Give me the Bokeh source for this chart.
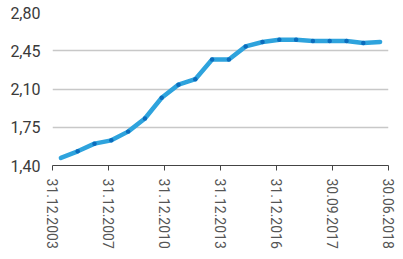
from bokeh.plotting import figure
from bokeh.models import Range1d, FixedTicker, CustomJSTickFormatter
from bokeh.embed import file_html
from bokeh.resources import INLINE

# data (20 periods)
values = [1.47, 1.53, 1.60, 1.63, 1.71, 1.83, 2.02, 2.14, 2.19, 2.37,
          2.37, 2.49, 2.53, 2.55, 2.55, 2.54, 2.54, 2.54, 2.52, 2.53]
tick_labels = ["31.12.2003", "31.12.2007", "31.12.2010", "31.12.2013",
               "31.12.2016", "30.09.2017", "30.06.2018"]
y_ticks = [1.40, 1.75, 2.10, 2.45, 2.80]

n = len(values)
xs = [3 * i + 1.5 for i in range(n)]
x_max = 3 * n
x_ticks = [round(i * x_max / (len(tick_labels) - 1)) for i in range(len(tick_labels))]

p = figure(width=395, height=265, output_backend="svg", toolbar_location=None,
           x_range=Range1d(0, x_max), y_range=Range1d(y_ticks[0], y_ticks[-1]),
           min_border_left=52, min_border_right=7, min_border_top=12,
           min_border_bottom=100)
p.outline_line_color = None
p.background_fill_color = "white"
p.border_fill_color = "white"

FONT = "Roboto"

p.xgrid.grid_line_color = None
p.ygrid.grid_line_color = "#c8c8c8"
p.ygrid.grid_line_width = 1.3

p.yaxis.ticker = FixedTicker(ticks=y_ticks)
p.yaxis.formatter = CustomJSTickFormatter(code="return tick.toFixed(2).replace('.', ',');")
p.yaxis.axis_line_color = None
p.yaxis.major_tick_line_color = None
p.yaxis.minor_tick_line_color = None
p.yaxis.major_label_standoff = 6
p.yaxis.major_label_text_font = FONT
p.yaxis.major_label_text_font_size = "16px"
p.yaxis.major_label_text_color = "#3a3a3a"

p.xaxis.ticker = FixedTicker(ticks=x_ticks)
p.xaxis.major_label_overrides = {t: lab for t, lab in zip(x_ticks, tick_labels)}
p.xaxis.major_label_orientation = "vertical"
p.xaxis.axis_line_color = "#444444"
p.xaxis.axis_line_width = 1.2
p.xaxis.major_tick_line_color = "#444444"
p.xaxis.major_tick_in = 0
p.xaxis.major_tick_out = 5
p.xaxis.minor_tick_line_color = None
p.xaxis.major_label_standoff = 8
p.xaxis.major_label_text_font = FONT
p.xaxis.major_label_text_font_size = "14px"
p.xaxis.major_label_text_color = "#555555"

p.line(xs, values, line_color="#2ea3dd", line_width=4.5, line_cap="round", line_join="round")
p.scatter(xs[1:-1], values[1:-1], size=4.5, fill_color="#0b6cbd", line_color=None)

open("out.html", "w").write(file_html(p, INLINE))
